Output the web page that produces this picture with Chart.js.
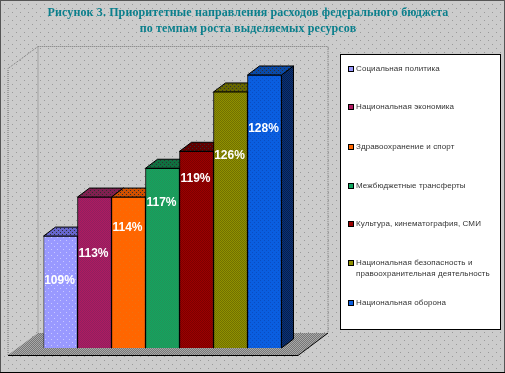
<!DOCTYPE html>
<html>
<head>
<meta charset="utf-8">
<style>
html, body { margin: 0; padding: 0; background: #c8c8c8; }
#wrap { width: 505px; height: 373px; }
</style>
<script src="https://cdn.jsdelivr.net/npm/chart.js@4"></script>
</head>
<body>
<div id="wrap"><canvas id="myChart" width="505" height="373"></canvas></div>
<script>
var titleLines = ['Рисунок 3. Приоритетные направления расходов федерального бюджета', 'по темпам роста выделяемых ресурсов'];
var categories = ['Социальная политика', 'Национальная экономика', 'Здравоохранение и спорт', 'Межбюджетные трансферты', 'Культура, кинематография, СМИ', 'Национальная безопасность и правоохранительная деятельность', 'Национальная оборона'];
var growthValues = [109, 113.6, 113.6, 117, 119, 126, 128];
var growthLabels = ['109%', '113%', '114%', '117%', '119%', '126%', '128%'];
var axisMin = 95.8;
var axisMax = 131.3;

// front colour, dither colour, dither step
var barStyles = [
    ['#9999ff', '#c8c8ff', 6],
    ['#b01a60', '#8f2060', 2],
    ['#ff6600', '#f07010', 6],
    ['#10a860', '#259058', 2],
    ['#9c0000', '#7c0000', 2],
    ['#909000', '#707000', 2],
    ['#0a5ee0', '#0a4cc0', 4]
];
var topColors = ['#6666cc', '#802050', '#d05000', '#107040', '#600000', '#666600', '#0a4aa8'];
var sideColors = ['#5050a0', '#601840', '#a04000', '#0c5030', '#480000', '#4c4c00', '#0a3078'];

function dither(c1, c2, step) {
    var c = document.createElement('canvas');
    c.width = step;
    c.height = step;
    var x = c.getContext('2d');
    x.fillStyle = c1;
    x.fillRect(0, 0, step, step);
    x.fillStyle = c2;
    x.fillRect(0, 0, 1, 1);
    x.fillRect(step / 2, step / 2, 1, 1);
    return x.createPattern(c, 'repeat');
}

function quad(ctx, pts, fill, stroke) {
    ctx.beginPath();
    ctx.moveTo(pts[0][0], pts[0][1]);
    for (var i = 1; i < pts.length; i++) ctx.lineTo(pts[i][0], pts[i][1]);
    ctx.closePath();
    if (fill) {
        ctx.fillStyle = fill;
        ctx.fill();
    }
    if (stroke) {
        ctx.strokeStyle = stroke;
        ctx.lineWidth = 1;
        ctx.stroke();
    }
}

// paper background, walls and floor
var backdropPlugin = {
    id: 'backdrop',
    beforeDraw: function (chart) {
        var ctx = chart.ctx, a = chart.chartArea;
        ctx.save();
        ctx.fillStyle = dither('#cccccc', '#999999', 8);
        ctx.fillRect(0, 0, chart.width, chart.height);
        ctx.strokeStyle = '#555555';
        ctx.strokeRect(0.5, 0.5, chart.width - 1, chart.height - 1);
        ctx.fillStyle = '#000000';
        ctx.fillRect(0, chart.height - 1, chart.width, 1);

        var backL = a.left - 5.5, backR = a.right + 46.5, backT = a.top - 0.5, backB = a.bottom - 15;
        var frontL = backL - 30, frontT = backT + 22, frontB = backB + 22;
        ctx.setLineDash([1, 1]);
        ctx.strokeStyle = '#777777';
        ctx.beginPath();
        ctx.moveTo(frontL, frontB);
        ctx.lineTo(frontL, frontT);
        ctx.lineTo(backL, backT);
        ctx.lineTo(backR, backT);
        ctx.lineTo(backR, backB);
        ctx.moveTo(backL, backT);
        ctx.lineTo(backL, backB);
        ctx.stroke();
        ctx.setLineDash([]);

        quad(ctx, [[frontL, frontB], [backL, backB], [backR, backB], [backR - 30, frontB]], dither('#777777', '#a8a8a8', 2));
        ctx.strokeStyle = '#000000';
        ctx.beginPath();
        ctx.moveTo(frontL, frontB + 0.5);
        ctx.lineTo(backR - 30, frontB + 0.5);
        ctx.lineTo(backR, backB);
        ctx.stroke();
        ctx.restore();
    }
};

// side and top faces of the bars, behind the fronts drawn by the library
var depthPlugin = {
    id: 'depth',
    beforeDatasetsDraw: function (chart) {
        var ctx = chart.ctx, bars = chart.getDatasetMeta(0).data;
        var dx = 12, dy = 9;
        ctx.save();
        bars.forEach(function (bar, i) {
            var half = bar.width / 2, l = bar.x - half, r = bar.x + half;
            quad(ctx, [[r, bar.y], [r + dx, bar.y - dy], [r + dx, bar.base - dy], [r, bar.base]], dither(sideColors[i], '#06204c', 2), '#000000');
            quad(ctx, [[l, bar.y], [l + dx, bar.y - dy], [r + dx, bar.y - dy], [r, bar.y]], dither(topColors[i], '#303030', 4), '#000000');
        });
        ctx.restore();
    }
};

// value labels sit at uneven heights in the reference, so the drop below each bar top is listed here
var labelDrop = [45, 57, 31, 34, 27, 64, 54];
var valueLabelPlugin = {
    id: 'valueLabels',
    afterDatasetsDraw: function (chart) {
        var ctx = chart.ctx, bars = chart.getDatasetMeta(0).data;
        ctx.save();
        ctx.font = 'bold 12px "Liberation Sans"';
        ctx.fillStyle = '#ffffff';
        ctx.textAlign = 'center';
        ctx.textBaseline = 'middle';
        bars.forEach(function (bar, i) {
            ctx.fillText(growthLabels[i], bar.x - 1, bar.y + labelDrop[i]);
        });
        ctx.restore();
    }
};

var titlePlugin = {
    id: 'twoLineTitle',
    afterDraw: function (chart) {
        var ctx = chart.ctx;
        ctx.save();
        ctx.font = 'bold 12px "Liberation Serif"';
        ctx.letterSpacing = '0.12px';
        ctx.fillStyle = '#0a7f8c';
        ctx.textAlign = 'center';
        ctx.textBaseline = 'middle';
        ctx.fillText(titleLines[0], 248, 13);
        ctx.fillText(titleLines[1], 248, 29);
        ctx.restore();
    }
};

var legendPlugin = {
    id: 'sideLegend',
    afterDraw: function (chart) {
        var ctx = chart.ctx;
        var rows = [69, 107, 147, 186, 224, 263, 303];
        ctx.save();
        ctx.fillStyle = '#ffffff';
        ctx.fillRect(340.5, 54.5, 160, 275);
        ctx.strokeStyle = '#000000';
        ctx.lineWidth = 1;
        ctx.strokeRect(340.5, 54.5, 160, 275);
        ctx.font = '8px "Liberation Sans"';
        ctx.letterSpacing = '0.1px';
        ctx.textBaseline = 'middle';
        categories.forEach(function (name, i) {
            var y = rows[i];
            ctx.fillStyle = barStyles[i][0];
            ctx.fillRect(348.5, y - 2.5, 5, 5);
            ctx.strokeRect(348.5, y - 2.5, 5, 5);
            ctx.fillStyle = '#333333';
            var cut = name.indexOf(' правоохранительная');
            if (cut > 0) {
                ctx.fillText(name.slice(0, cut), 356, y);
                ctx.fillText(name.slice(cut + 1), 356, y + 11);
            } else {
                ctx.fillText(name, 356, y);
            }
        });
        ctx.restore();
    }
};

new Chart(document.getElementById('myChart').getContext('2d'), {
    type: 'bar',
    data: {
        labels: categories,
        datasets: [{
            data: growthValues,
            base: axisMin,
            backgroundColor: barStyles.map(function (s) { return dither(s[0], s[1], s[2]); }),
            borderColor: '#000000',
            borderWidth: 1,
            barPercentage: 1,
            categoryPercentage: 1
        }]
    },
    options: {
        responsive: false,
        animation: false,
        layout: { padding: { left: 43.5, right: 223.5, top: 47, bottom: 25 } },
        plugins: { legend: { display: false }, tooltip: { enabled: false }, title: { display: false } },
        scales: {
            x: { display: false },
            y: { display: false, min: axisMin, max: axisMax }
        }
    },
    plugins: [backdropPlugin, depthPlugin, valueLabelPlugin, titlePlugin, legendPlugin]
});
</script>
</body>
</html>
